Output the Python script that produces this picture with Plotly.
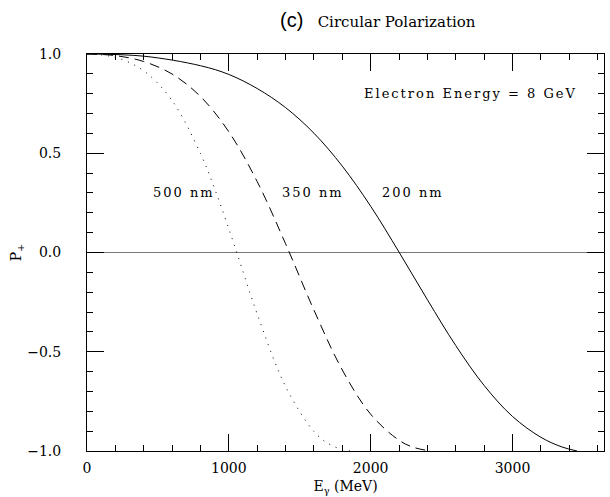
import plotly.graph_objects as go

# Photon energy (MeV) and circular polarization P+
e_200 = [0, 400, 800, 1000, 1200, 1400, 1600, 1800, 2000, 2200, 2400, 2600, 2800, 3000, 3200, 3350, 3455]
p_200 = [1.0, 0.989, 0.941, 0.897, 0.826, 0.730, 0.601, 0.435, 0.233, 0.002, -0.238, -0.469, -0.670, -0.826, -0.931, -0.980, -1.0]

e_350 = [0, 200, 400, 600, 800, 1000, 1200, 1400, 1600, 1800, 2000, 2200, 2300, 2421]
p_350 = [1.0, 0.992, 0.962, 0.899, 0.786, 0.608, 0.357, 0.044, -0.290, -0.592, -0.815, -0.946, -0.981, -1.0]

e_500 = [0, 200, 400, 600, 800, 900, 1000, 1100, 1200, 1400, 1600, 1700, 1800, 1865]
p_500 = [1.0, 0.983, 0.915, 0.765, 0.499, 0.321, 0.119, -0.096, -0.310, -0.675, -0.902, -0.962, -0.993, -1.0]

curve_labels = ["500 nm", "350 nm", "200 nm"]
label_x = [684, 1594, 2299]
label_y = [0.30, 0.30, 0.30]

SERIF = "DejaVu Serif"


def spaced(t, px=2):
    return "<span style='letter-spacing:%dpx'>%s</span>" % (px, t)


fig = go.Figure()
fig.add_trace(go.Scatter(x=e_500, y=p_500, mode="lines", line=dict(color="black", width=1, dash="1px,6px", shape="spline")))
fig.add_trace(go.Scatter(x=e_350, y=p_350, mode="lines", line=dict(color="black", width=1, dash="10px,6px", shape="spline")))
fig.add_trace(go.Scatter(x=e_200, y=p_200, mode="lines", line=dict(color="black", width=1, shape="spline")))

for t, x, y in zip(curve_labels, label_x, label_y):
    fig.add_annotation(x=x, y=y, text=spaced(t), showarrow=False, font=dict(family=SERIF, size=13, color="black"))

fig.add_annotation(x=2705, y=0.80, text=spaced("Electron Energy = 8 GeV"), showarrow=False,
                   font=dict(family=SERIF, size=13, color="black"))

fig.add_annotation(xref="paper", yref="paper", x=0.563, y=1.0, yanchor="middle", yshift=34, showarrow=False,
                   text="<span style='font-family:Liberation Sans;font-size:20px'>(c)</span>   "
                        "Circular Polarization",
                   font=dict(family=SERIF, size=15, color="black"))

axis_common = dict(showline=True, linecolor="black", linewidth=1, mirror="allticks",
                   ticks="inside", ticklen=17, tickwidth=1, tickcolor="black",
                   showgrid=False, tickfont=dict(family=SERIF, size=14, color="black"))

fig.update_xaxes(range=[0, 3645], tick0=0, dtick=1000, zeroline=False,
                 minor=dict(dtick=200, ticklen=6, ticks="inside", tickcolor="black", showgrid=False),
                 title=dict(text="E<sub>γ</sub> (MeV)", font=dict(family=SERIF, size=14, color="black"), standoff=6),
                 ticklabelstandoff=4, **axis_common)
fig.update_yaxes(range=[-1.0, 1.0], tick0=-1, dtick=0.5, tickformat=".1f",
                 zeroline=True, zerolinecolor="#777777", zerolinewidth=1,
                 minor=dict(dtick=0.1, ticklen=6, ticks="inside", tickcolor="black", showgrid=False),
                 title=dict(text="P<sub>+</sub>", font=dict(family=SERIF, size=14, color="black"), standoff=2),
                 ticklabelstandoff=22, **axis_common)

fig.update_layout(width=610, height=497, margin=dict(l=87, r=6, t=54, b=46),
                  paper_bgcolor="white", plot_bgcolor="white", showlegend=False)

fig.write_html("out.html")
